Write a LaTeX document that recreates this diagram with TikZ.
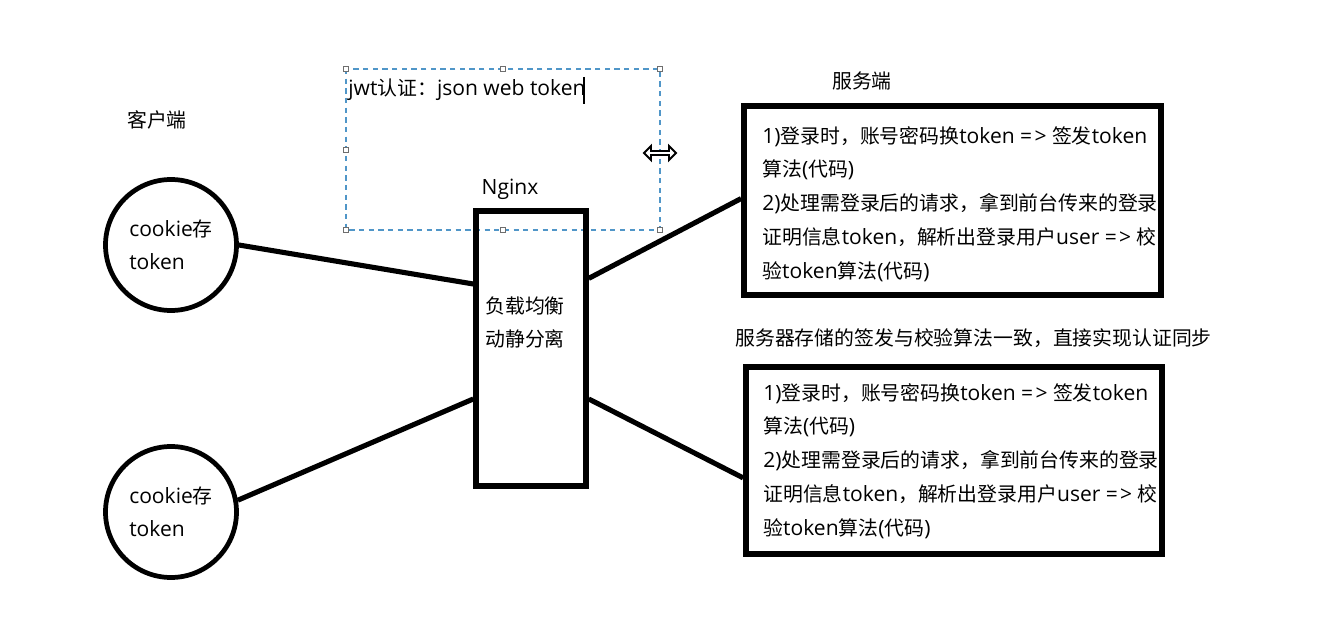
\documentclass[tikz,border=0pt]{standalone}
\usepackage{fontspec}
\setmainfont{Noto Sans CJK SC}
\newfontfamily\latfont[Scale=1.06]{Open Sans}
\newcommand\en[1]{{\latfont #1}}
\newcommand\arr{{\latfont =\kern1.3pt>}}
\usetikzlibrary{calc}
\definecolor{selblue}{RGB}{80,150,200}
\definecolor{hgray}{RGB}{110,110,110}
\begin{document}
\begin{tikzpicture}[x=0.02cm,y=-0.02cm,
  txt/.style={inner sep=0pt, font=\fontsize{11.3}{19.2}\selectfont, align=left},
  conn/.style={line width=2.9pt},
  circ/.style={draw, circle, line width=2.7pt, minimum size=131*0.02cm, inner sep=0pt, align=left, font=\fontsize{11.3}{18.8}\selectfont},
  sbox/.style={draw, rectangle, line width=3.3pt, inner sep=0pt},
  handle/.style={draw=hgray, fill=white, line width=0.6pt}]
\fill[white] (0,0) rectangle (1333,618);
\useasboundingbox (0,0) rectangle (1333,618);

% selection frame of the text box
\draw[selblue, line width=0.8pt, dash pattern=on 3pt off 2.5pt] (346,69) rectangle (660,230);
\foreach \hx/\hy in {346/69,503/69,660/69,346/150,346/230,503/230,660/230}
  \draw[handle] (\hx-2.5,\hy-2.5) rectangle (\hx+2.5,\hy+2.5);
\node[txt, anchor=west] (jwt) at (348,90) {\en{jwt}认证：\en{json web token}};
\draw[line width=0.8pt] (584,77) -- (584,104);

% labels
\node[txt] (client) at (157,120) {客户端};
\node[txt] (server) at (862,81) {服务端};
\node[txt] (nginxlbl) at (510,189) {\en{Nginx}};
\node[txt, anchor=west] (note) at (735,338) {服务器存储的签发与校验算法一致，直接实现认证同步};

% clients
\node[circ] (c1) at (171,245) {\en{cookie}存\\\en{token}};
\node[circ] (c2) at (171,512) {\en{cookie}存\\\en{token}};

% nginx
\node[sbox, line width=3.1pt, minimum width=110*0.02cm, minimum height=275*0.02cm] (ng) at (531,348.5) {};
\node[txt, anchor=north west] (ngtext) at (485,296) {负载均衡\\动静分离};

% servers
\node[sbox, minimum width=417*0.02cm, minimum height=189*0.02cm] (s1) at (952.5,200.5) {};
\node[sbox, minimum width=416*0.02cm, minimum height=187*0.02cm] (s2) at (954,460.5) {};
\node[txt, anchor=north west] (s1text) at (762,126) {\en{1)}登录时，账号密码换\en{token }\arr\en{ }签发\en{token}\\算法\en{(}代码\en{)}\\\en{2)}处理需登录后的请求，拿到前台传来的登录\\证明信息\en{token}，解析出登录用户\en{user }\arr\en{ }校\\验\en{token}算法\en{(}代码\en{)}};
\node[txt, anchor=north west] (s2text) at (763,383) {\en{1)}登录时，账号密码换\en{token }\arr\en{ }签发\en{token}\\算法\en{(}代码\en{)}\\\en{2)}处理需登录后的请求，拿到前台传来的登录\\证明信息\en{token}，解析出登录用户\en{user }\arr\en{ }校\\验\en{token}算法\en{(}代码\en{)}};

% connectors
\draw[conn] (c1.east) -- ($(ng.north west)!0.27!(ng.south west)$);
\draw[conn] (c2.10) -- ($(ng.north west)!0.68!(ng.south west)$);
\draw[conn] ($(ng.north east)!0.25!(ng.south east)$) -- ($(s1.north west)!0.49!(s1.south west)$);
\draw[conn] ($(ng.north east)!0.68!(ng.south east)$) -- ($(s2.north west)!0.59!(s2.south west)$);

% resize cursor
\draw[fill=white, line width=1.1pt, line join=miter] (660,153) ++(-16,0) -- ++(7,-7) -- ++(0,5) -- ++(18,0) -- ++(0,-5) -- ++(7,7) -- ++(-7,7) -- ++(0,-5) -- ++(-18,0) -- ++(0,5) -- cycle;
\end{tikzpicture}
\end{document}
